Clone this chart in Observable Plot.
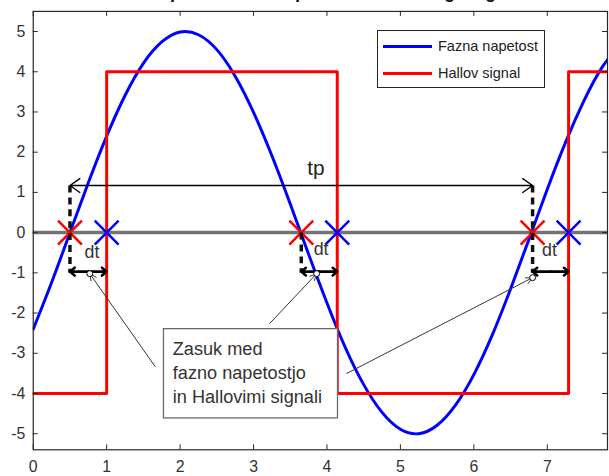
<!DOCTYPE html>
<html><head><meta charset="utf-8">
<script src="https://cdn.jsdelivr.net/npm/d3@7"></script>
<script src="https://cdn.jsdelivr.net/npm/@observablehq/plot@0.6"></script>
<style>
html,body{margin:0;padding:0;background:#fff;overflow:hidden}
#wrap{position:relative;width:609px;height:476px;overflow:hidden;font-family:"Liberation Sans",Arial,sans-serif}
#title{position:absolute;left:0;top:0;width:609px;height:6px;overflow:hidden}
#title span{position:absolute;left:95px;top:-17.5px;font-size:18px;line-height:18px;font-weight:bold;color:#111;white-space:nowrap}
#legend{position:absolute;left:377px;top:30px;width:166px;height:56px;border:1px solid #262626;background:#fff;font-size:14.5px;color:#222}
.row{position:absolute;left:5px;height:18px;display:flex;align-items:center;white-space:nowrap}
.sw{width:49px;height:3px;margin-right:6px}
</style></head><body>
<div id="wrap"><div id="chart"></div>
<div id="title"><span>Časovni potek fazne napetosti in Hallovega signala ter zasuk</span></div>
<div id="legend"></div>
</div>
<script>
// ---- data ----
const xTicks = [0, 1, 2, 3, 4, 5, 6, 7];
const yTicks = [-5, -4, -3, -2, -1, 0, 1, 2, 3, 4, 5];

// Fazna napetost (blue)
const phaseX = [0, 0.25, 0.5, 0.75, 1.0, 1.25, 1.5, 1.75, 2.0, 2.25, 2.5, 2.75, 3.0, 3.25, 3.5, 3.75, 4.0, 4.25, 4.5, 4.75, 5.0, 5.25, 5.5, 5.75, 6.0, 6.25, 6.5, 6.75, 7.0, 7.25, 7.5, 7.75, 8.0];
const phaseY = [-2.40, -1.24, 0, 1.24, 2.40, 3.41, 4.21, 4.74, 4.99, 4.92, 4.55, 3.89, 2.99, 1.91, 0.71, -0.54, -1.75, -2.86, -3.78, -4.47, -4.89, -5.00, -4.79, -4.29, -3.53, -2.55, -1.40, -0.17, 1.08, 2.25, 3.28, 4.12, 4.69];

// Hallov signal (red)
const hallX = [0, 1.0, 1.0, 4.14, 4.14, 7.29, 7.29, 8.0];
const hallY = [-4, -4, 4, 4, -4, -4, 4, 4];

// zero crossings (red X) and Hall edges (blue X)
const phaseZeros = [0.5, 3.65, 6.8];
const hallEdges = [1.0, 4.14, 7.29];

// dashed guides
const dashTop = [1.17, 0, 1.17];
const dashBottom = [-1.0, -1.0, -1.0];

// tp arrow
const tpY = 1.17;
const tpLabel = {x: 3.85, y: 1.6, text: "tp"};

// dt arrows
const dtY = -0.97;
const dtLabelX = [0.8, 3.92, 7.03];
const dtLabelY = [-0.5, -0.42, -0.45];

// annotation box and arrows
const boxX = [1.78, 4.15];
const boxY = [-4.62, -2.4];
const boxText = "Zasuk med\nfazno napetostjo\nin Hallovimi signali";
const boxTextX = 1.9, boxTextY = -3.45;
const annFromX = [1.66, 3.22, 4.27];
const annFromY = [-3.33, -2.26, -3.5];
const annToX = [0.77, 3.86, 6.8];
const annToY = [-1.02, -1.02, -1.12];

// legend
const seriesNames = ["Fazna napetost", "Hallov signal"];
const seriesColors = ["#0000ff", "#ff0000"];

// ---- build tables ----
const phase = phaseX.map((x, i) => ({x, y: phaseY[i]}));
const hall = hallX.map((x, i) => ({x, y: hallY[i]}));
const dashes = phaseZeros.map((x, i) => ({x, y1: dashTop[i], y2: dashBottom[i]}));
const tpMid = (phaseZeros[0] + phaseZeros[2]) / 2;
const tpArrows = [{x1: tpMid, x2: phaseZeros[0]}, {x1: tpMid, x2: phaseZeros[2]}];
const dtArrows = [];
phaseZeros.forEach((x0, i) => {
  const x1 = hallEdges[i], m = (x0 + x1) / 2;
  dtArrows.push({x1: m, x2: x0}, {x1: m, x2: x1});
});
const dtLabels = dtLabelX.map((x, i) => ({x, y: dtLabelY[i]}));
const ann = annFromX.map((x, i) => ({x1: x, y1: annFromY[i], x2: annToX[i], y2: annToY[i]}));

const font = '"Liberation Sans", Arial, sans-serif';
const fmt = d => String(d);
const chart = Plot.plot({
  width: 614, height: 476,
  marginTop: 11, marginBottom: 23, marginLeft: 33, marginRight: 2,
  x: {domain: [0, 7.82]},
  y: {domain: [-5.4, 5.5]},
  style: {fontFamily: font, fontSize: "16px", color: "#333", background: "#fff", overflow: "visible"},
  marks: [
    Plot.ruleY([0], {stroke: "#737373", strokeWidth: 3.5}),
    Plot.line(phase, {x: "x", y: "y", stroke: seriesColors[0], strokeWidth: 3, curve: "natural", clip: true}),
    Plot.line(hall, {x: "x", y: "y", stroke: seriesColors[1], strokeWidth: 3, clip: true}),
    Plot.dot(phaseZeros, {x: d => d, y: () => 0, symbol: "times", r: 11, stroke: "#ff0000", strokeWidth: 2.5}),
    Plot.dot(hallEdges, {x: d => d, y: () => 0, symbol: "times", r: 11, stroke: "#0000ff", strokeWidth: 2.5}),
    Plot.link(dashes, {x1: "x", x2: "x", y1: "y1", y2: "y2", stroke: "#111", strokeWidth: 3.5, strokeDasharray: "7,5"}),
    Plot.arrow(tpArrows, {x1: "x1", x2: "x2", y1: () => tpY, y2: () => tpY, stroke: "#000", strokeWidth: 1.4, headLength: 13, headAngle: 70}),
    Plot.text([tpLabel], {x: "x", y: "y", text: "text", fontSize: 21, fill: "#222"}),
    Plot.arrow(dtArrows, {x1: "x1", x2: "x2", y1: () => dtY, y2: () => dtY, stroke: "#000", strokeWidth: 2.6, headLength: 7, headAngle: 80}),
    Plot.text(dtLabels, {x: "x", y: "y", text: () => "dt", fontSize: 18, fill: "#333"}),
    Plot.arrow(ann, {x1: "x1", y1: "y1", x2: "x2", y2: "y2", stroke: "#333", strokeWidth: 1, headLength: 11, headAngle: 50}),
    Plot.dot(ann, {x: "x2", y: "y2", r: 3, fill: "#fff", stroke: "#000", strokeWidth: 1}),
    Plot.rect([0], {x1: () => boxX[0], x2: () => boxX[1], y1: () => boxY[0], y2: () => boxY[1], fill: "#fff", stroke: "#6a6a6a", strokeWidth: 1.3}),
    Plot.text([boxText], {x: () => boxTextX, y: () => boxTextY, text: d => d, textAnchor: "start", fontSize: 18.3, lineHeight: 1.33, fill: "#333"}),
    Plot.frame({stroke: "#262626", strokeWidth: 1.2}),
    Plot.axisX({ticks: xTicks, anchor: "bottom", tickSize: 0, tickPadding: 11, label: null, fontSize: 16, tickFormat: fmt}),
    Plot.tickX(xTicks, {x: d => d, stroke: "#262626", insetTop: 437}),
    Plot.tickX(xTicks, {x: d => d, stroke: "#262626", insetBottom: 437}),
    Plot.axisY({ticks: yTicks, anchor: "left", tickSize: 0, tickPadding: 8, label: null, fontSize: 16, tickFormat: fmt}),
    Plot.tickY(yTicks, {y: d => d, stroke: "#262626", insetRight: 574}),
    Plot.tickY(yTicks, {y: d => d, stroke: "#262626", insetLeft: 574})
  ]
});
document.getElementById("chart").appendChild(chart);

const leg = document.getElementById("legend");
seriesNames.forEach((name, i) => {
  const row = document.createElement("div");
  row.className = "row";
  row.style.top = (6 + i * 27) + "px";
  row.innerHTML = `<div class="sw" style="background:${seriesColors[i]}"></div><span>${name}</span>`;
  leg.appendChild(row);
});
</script>
</body></html>
